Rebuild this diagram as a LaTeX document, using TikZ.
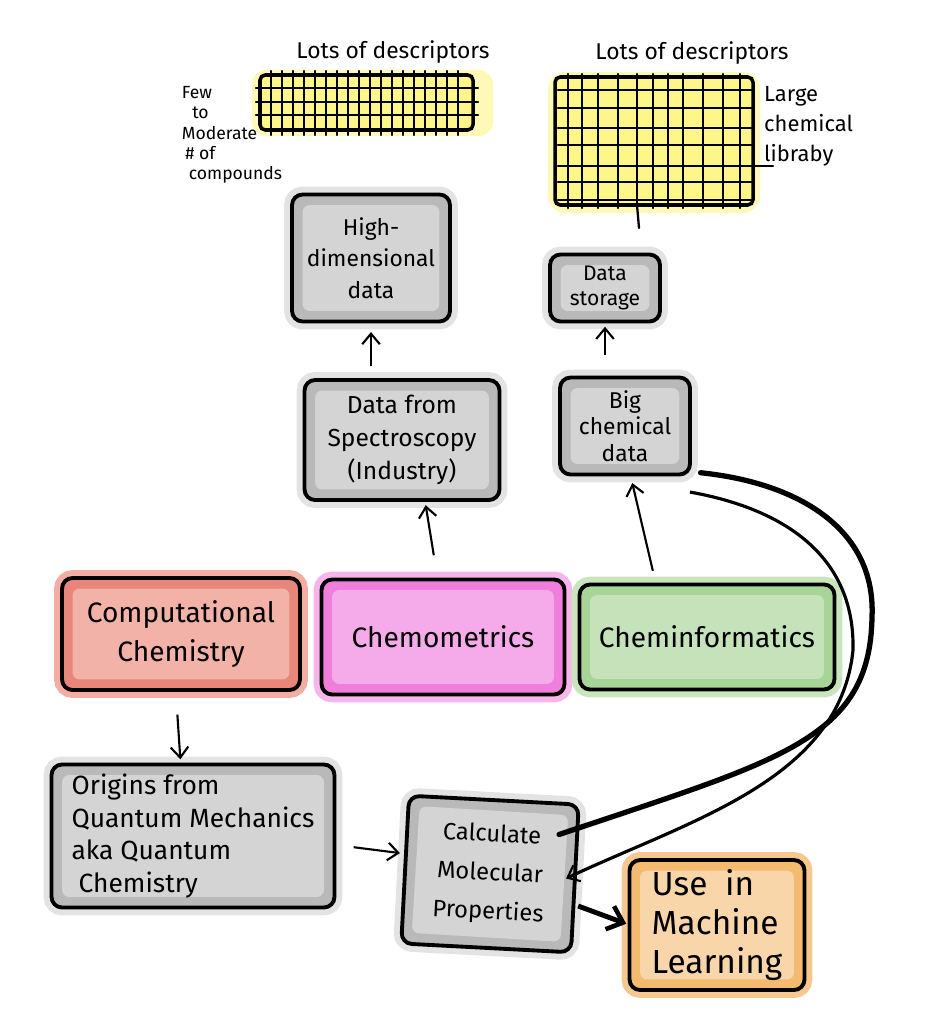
\documentclass[tikz,border=0pt]{standalone}
\usepackage{fontspec}
\setmainfont{Fira Sans}
\usetikzlibrary{arrows.meta,calc}
\pgfdeclarelayer{background}
\pgfsetlayers{background,main}

\definecolor{grayfill}{HTML}{D4D4D4}
\definecolor{grayrim}{HTML}{B9B9B9}
\definecolor{grayhalo}{HTML}{E3E3E3}
\definecolor{redfill}{HTML}{F2B2A8}
\definecolor{redrim}{HTML}{E8867A}
\definecolor{redhalo}{HTML}{F4ADA2}
\definecolor{pinkfill}{HTML}{F5AAE9}
\definecolor{pinkrim}{HTML}{EF7EDD}
\definecolor{pinkhalo}{HTML}{F6B5EB}
\definecolor{greenfill}{HTML}{C6E2BB}
\definecolor{greenrim}{HTML}{A9D497}
\definecolor{greenhalo}{HTML}{C9E5BC}
\definecolor{orangefill}{HTML}{F8D6AA}
\definecolor{orangerim}{HTML}{F3BA70}
\definecolor{orangehalo}{HTML}{F6C890}
\definecolor{gridyellow}{HTML}{FFF68A}
\definecolor{gridhalo}{HTML}{FFF9B8}

\newcommand{\handsize}[2]{\fontsize{#1}{#2}\selectfont}

\begin{document}
\begin{tikzpicture}
  [x=0.02cm,y=-0.02cm,
   sketchbox/.style={draw=black,line width=2.2pt,rounded corners=6pt,
     outer sep=0pt,align=center,inner sep=3pt},
   gridline/.style={line width=1.3pt,line cap=round},
   gridframe/.style={line width=2pt,rounded corners=3pt},
   arr/.style={-{Straight Barb[length=6pt,width=10pt,line width=1.2pt]},line width=1.2pt},
   bigarr/.style={-{Straight Barb[length=8pt,width=14pt,line width=2.6pt]},line width=2.8pt},
   sweep/.style={line width=3pt,line cap=round}
  ]
  \useasboundingbox (0,0) rectangle (931,1017);

  % left descriptor grid
  \fill[gridhalo,rounded corners=8pt] (252,70) rectangle (493,136);
  \fill[gridyellow] (260,75) rectangle (473,130);
  \foreach \x in {271,282,...,462}
    \draw[gridline] (\x,71) -- (\x,135);
  \foreach \y in {88,102,115}
    \draw[gridline] (256,\y) -- (478,\y);
  \draw[gridframe] (260,75) rectangle (473,130);
  \node[font={\handsize{13}{15}}] (lotsleft) at (393,52) {Lots of descriptors};
  \node[align=left,font={\handsize{10}{11.5}}] (fewlabel) at (232,135)
    {Few\\\hspace{6pt}to\\Moderate\\\hspace{2pt}\# of\\\hspace{4pt}compounds};

  % right descriptor grid
  \fill[gridhalo,rounded corners=10pt] (548,72) rectangle (760,213);
  \fill[gridyellow] (555,77) rectangle (753,205);
  \foreach \x in {568,582,598,618,637,653,668,683,703,723,740}
    \draw[gridline] (\x,74) -- (\x,208);
  \foreach \y in {90,108,128,145,182,200}
    \draw[gridline] (558,\y) -- (752,\y);
  \draw[gridline] (558,166) -- (773,166);
  \draw[gridline] (637,205) -- (639,228);
  \draw[gridframe] (555,77) rectangle (753,205);
  \node[font={\handsize{13}{15}}] (lotsright) at (692,53) {Lots of descriptors};
  \node[align=left,anchor=north west,font={\handsize{12.5}{17}}] (largelabel) at (758,80)
    {Large\\chemical\\libraby};

  % data boxes
  \node[sketchbox,minimum width=3.16cm,minimum height=2.54cm,font={\handsize{13}{18}}]
    (hidim) at (371,258) {High-\\dimensional\\data};
  \node[sketchbox,minimum width=2.2cm,minimum height=1.34cm,font={\handsize{12}{14}}]
    (storage) at (605,288) {Data\\storage};
  \node[sketchbox,minimum width=3.9cm,minimum height=2.4cm,font={\handsize{14}{19}}]
    (spectro) at (402,440) {Data from\\Spectroscopy\\(Industry)};
  \node[sketchbox,minimum width=2.6cm,minimum height=1.94cm,font={\handsize{13}{15}}]
    (bigdata) at (625,426) {Big\\chemical\\data};

  % fields
  \node[sketchbox,minimum width=4.76cm,minimum height=2.24cm,font={\handsize{16}{22}}]
    (compchem) at (181,634) {Computational\\Chemistry};
  \node[sketchbox,minimum width=4.86cm,minimum height=2.3cm,font={\handsize{16}{19}}]
    (chemo) at (443,637) {Chemometrics};
  \node[sketchbox,minimum width=5.1cm,minimum height=2.1cm,font={\handsize{16}{19}}]
    (cheminf) at (707,637) {Cheminformatics};

  % bottom row
  \node[sketchbox,minimum width=5.66cm,minimum height=2.86cm,align=left,font={\handsize{15}{18.5}}]
    (origins) at (193,836) {Origins from\\Quantum Mechanics\\aka Quantum\\\hspace{4pt}Chemistry};
  \node[sketchbox,minimum width=3.4cm,minimum height=2.96cm,rotate=-3,font={\handsize{13.5}{22}}]
    (calc) at (490,874) {Calculate\\Molecular\\Properties};
  \node[sketchbox,minimum width=3.5cm,minimum height=2.6cm,align=left,font={\handsize{19}{22}}]
    (useml) at (717,925) {Use\ \ in\\Machine\\Learning};

  % halo, rim and inner fill behind every box
  \begin{pgfonlayer}{background}
    \foreach \n/\col in {hidim/gray,storage/gray,spectro/gray,bigdata/gray,
                         compchem/red,chemo/pink,cheminf/green,
                         origins/gray,calc/gray,useml/orange}
    {
      \fill[\col rim,rounded corners=6pt,preaction={draw=\col halo,line width=9pt}]
        (\n.north west) -- (\n.north east) -- (\n.south east) -- (\n.south west) -- cycle;
      \fill[\col fill,rounded corners=4pt]
        ([shift={(6pt,-6pt)}]\n.north west) -- ([shift={(-6pt,-6pt)}]\n.north east)
        -- ([shift={(-6pt,6pt)}]\n.south east) -- ([shift={(6pt,6pt)}]\n.south west) -- cycle;
    }
  \end{pgfonlayer}

  % arrows
  \draw[arr,shorten <=8pt,shorten >=6pt] (spectro.north -| hidim.south) -- (hidim.south);
  \draw[arr,shorten <=13pt,shorten >=3pt] (bigdata.north -| storage.south) -- (storage.south);
  \draw[arr,shorten <=14pt,shorten >=3pt]
    ([xshift=-3pt]chemo.north) -- ([xshift=13pt]spectro.south);
  \draw[arr,shorten <=8pt,shorten >=5pt]
    ([xshift=-29pt]cheminf.north) -- ([xshift=3pt]bigdata.south);
  \draw[arr,shorten <=14pt,shorten >=3pt]
    ([xshift=-3pt]compchem.south) -- ([xshift=-7pt]origins.north);
  \draw[arr,shorten <=11pt,shorten >=3pt]
    ([yshift=-5pt]origins.east) -- ([yshift=9pt]calc.west);
  \draw[bigarr,shorten <=2pt,shorten >=2pt]
    ([yshift=-15pt]calc.east) -- (useml.west);

  % loop between big data and calculated properties
  \draw[sweep] ([xshift=-9pt,yshift=25pt]calc.east)
    .. controls (780,760) and (870,740) .. (872,617)
    .. controls (876,530) and (800,483) .. ([xshift=6pt,yshift=1pt]bigdata.south east);
  \draw[arr,line width=1.8pt] ([yshift=-10pt]bigdata.south east)
    .. controls (790,510) and (855,560) .. (853,650)
    .. controls (840,780) and (690,820) .. ([xshift=-5pt]calc.east);
\end{tikzpicture}
\end{document}
